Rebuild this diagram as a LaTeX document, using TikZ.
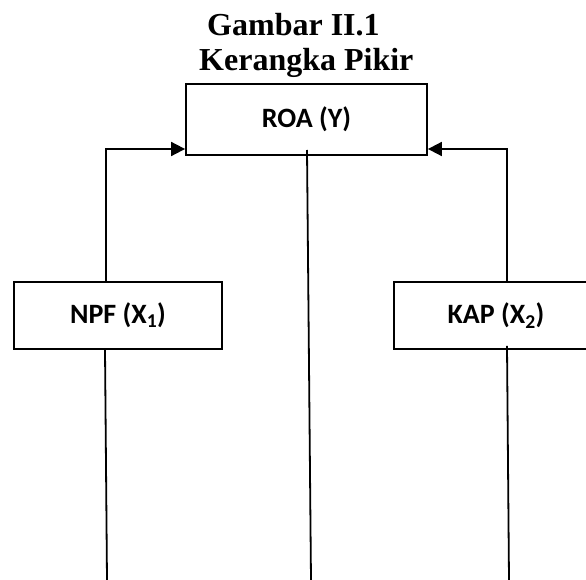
\documentclass[tikz,border=0pt]{standalone}
\usepackage{fontspec}
\setmainfont{Liberation Serif}
\newfontfamily\boxfont{Carlito}
\usetikzlibrary{arrows.meta}
\tikzset{
  varbox/.style={draw, line width=1.8pt, rectangle, inner sep=0pt,
    font=\boxfont\bfseries\fontsize{28}{32}\selectfont},
  conn/.style={line width=1.8pt},
  arr/.style={conn, -{Triangle[length=14pt,width=14pt]}},
  titletext/.style={anchor=base west, inner sep=0pt,
    font=\bfseries\fontsize{32}{38}\selectfont}
}
\begin{document}
\begin{tikzpicture}[x=1pt,y=-1pt]
\useasboundingbox (0,0) rectangle (586,580);
\node[titletext] (t1) at (207,36) {Gambar II.1};
\node[titletext] (t2) at (199,71) {Kerangka Pikir};
\node[varbox, minimum width=241pt, minimum height=71pt] (roa) at (306.5,119.5) {ROA (Y)};
\node[varbox, minimum width=208pt, minimum height=67pt] (npf) at (118,315.5) {NPF (X\textsubscript{1})};
\node[varbox, minimum width=204pt, minimum height=67pt] (kap) at (496,315.5) {KAP (X\textsubscript{2})};
\coordinate (lc) at (106,149);
\coordinate (rc) at (507,149);
\draw[arr] (npf.north -| lc) -- (lc) -- (roa.west |- lc);
\draw[arr] (kap.north -| rc) -- (rc) -- (roa.east |- rc);
\coordinate (ct) at (307,150);
\coordinate (cb) at (311,580);
\draw[conn] (ct) -- (cb);
\coordinate (lb) at (107,580);
\coordinate (rb) at (509,580);
\draw[conn] ([xshift=-13pt]npf.south) -- (lb);
\draw[conn] ([xshift=11pt,yshift=4pt]kap.south) -- (rb);
\end{tikzpicture}
\end{document}
